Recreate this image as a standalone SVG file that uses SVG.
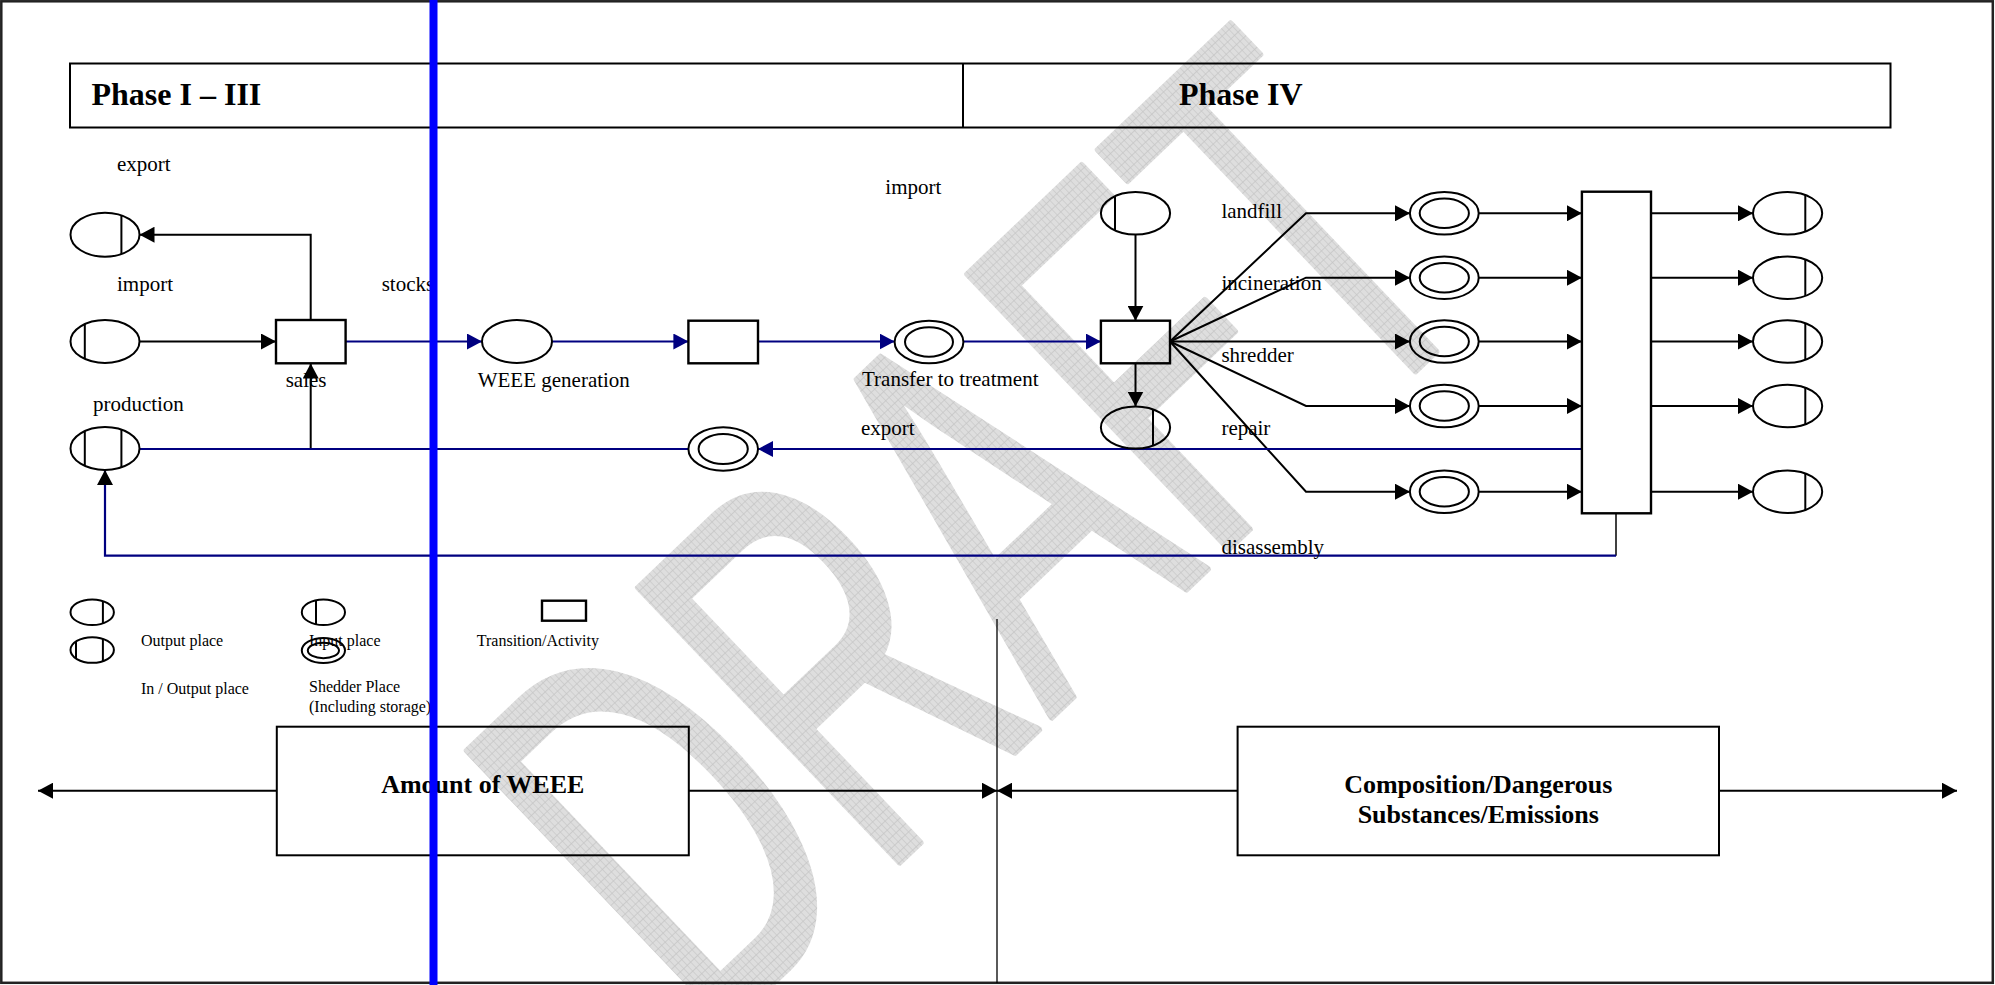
<svg xmlns="http://www.w3.org/2000/svg" width="1995" height="985" viewBox="0 0 1995 985">
<defs>
<style>
.t{font-family:"Liberation Serif","Times New Roman",serif;font-size:21px;fill:#000}
.s{font-family:"Liberation Serif","Times New Roman",serif;font-size:16px;fill:#000}
.b{font-family:"Liberation Serif","Times New Roman",serif;font-weight:bold;fill:#000}
.k{fill:none;stroke:#000;stroke-width:2}
.n{fill:none;stroke:#000080;stroke-width:2.2}
.sh{fill:none;stroke:#000;stroke-width:2}
.tr{fill:none;stroke:#000;stroke-width:2.4}
</style>
<pattern id="hatch" width="8" height="8" patternUnits="userSpaceOnUse">
<rect width="8" height="8" fill="#dedede"/>
<path d="M0,0.5H8M0.5,0V8" stroke="#c6c6c6" stroke-width="1"/>
</pattern>
<marker id="ak" markerWidth="15" markerHeight="16" refX="15" refY="8" orient="auto" markerUnits="userSpaceOnUse"><path d="M0,0L15,8L0,16z" fill="#000"/></marker>
<marker id="an" markerWidth="15" markerHeight="16" refX="15" refY="8" orient="auto" markerUnits="userSpaceOnUse"><path d="M0,0L15,8L0,16z" fill="#000080"/></marker>
</defs>
<rect x="0" y="0" width="1995" height="985" fill="#fff"/>
<g id="watermark">
<text transform="translate(1498,292) rotate(-43.6) scale(0.595,1)" text-anchor="end" font-family="Liberation Sans, Arial, sans-serif" font-size="550" fill="url(#hatch)" stroke="url(#hatch)" stroke-width="7" stroke-linejoin="round">DRAFT</text>
</g>
<rect x="1.3" y="1.3" width="1991.5" height="981.5" fill="none" stroke="#222" stroke-width="2.5"/>
<g id="header">
<rect x="70" y="63.5" width="1820.5" height="64" fill="none" stroke="#000" stroke-width="2"/>
<line x1="963" y1="63.5" x2="963" y2="127.5" stroke="#000" stroke-width="2"/>
<text class="b" x="91.5" y="105" font-size="32">Phase I – III</text>
<text class="b" x="1179" y="105" font-size="32">Phase IV</text>
</g>
<g id="connectors">
<path class="k" d="M139.5,341.5H276" marker-end="url(#ak)"/>
<path class="k" d="M310.7,320V234.7H139.5" marker-end="url(#ak)"/>
<path class="k" d="M310.7,449V363.5" marker-end="url(#ak)"/>
<path class="n" d="M345.5,341.5H482" marker-end="url(#an)"/>
<path class="n" d="M552,341.5H688.4" marker-end="url(#an)"/>
<path class="n" d="M758,341.5H894.6" marker-end="url(#an)"/>
<path class="n" d="M963.4,341.5H1100.9" marker-end="url(#an)"/>
<path class="k" d="M1135.5,234.5V320.7" marker-end="url(#ak)"/>
<path class="k" d="M1135.5,363.3V406.5" marker-end="url(#ak)"/>
<path class="k" d="M1170,341.5L1306,213.3H1410" marker-end="url(#ak)"/>
<path class="k" d="M1170,341.5L1306,277.7H1410" marker-end="url(#ak)"/>
<path class="k" d="M1170,341.5H1410" marker-end="url(#ak)"/>
<path class="k" d="M1170,341.5L1306,406H1410" marker-end="url(#ak)"/>
<path class="k" d="M1170,341.5L1306,491.7H1410" marker-end="url(#ak)"/>
<path class="k" d="M1478.6,213.3H1581.9" marker-end="url(#ak)"/>
<path class="k" d="M1478.6,277.7H1581.9" marker-end="url(#ak)"/>
<path class="k" d="M1478.6,341.5H1581.9" marker-end="url(#ak)"/>
<path class="k" d="M1478.6,406H1581.9" marker-end="url(#ak)"/>
<path class="k" d="M1478.6,491.7H1581.9" marker-end="url(#ak)"/>
<path class="k" d="M1651,213.3H1753" marker-end="url(#ak)"/>
<path class="k" d="M1651,277.7H1753" marker-end="url(#ak)"/>
<path class="k" d="M1651,341.5H1753" marker-end="url(#ak)"/>
<path class="k" d="M1651,406H1753" marker-end="url(#ak)"/>
<path class="k" d="M1651,491.7H1753" marker-end="url(#ak)"/>
<path class="n" d="M1581.9,449H758" marker-end="url(#an)"/>
<path class="n" d="M688.4,449H139.5"/>
<path d="M1616,513.3V555.7" fill="none" stroke="#000" stroke-width="1.5"/>
<path class="n" d="M1616,555.7H105V470" marker-end="url(#ak)"/>
<path class="k" d="M276.8,790.7H38" marker-end="url(#ak)"/>
<path class="k" d="M688.8,790.7H997" marker-end="url(#ak)"/>
<path class="k" d="M1237.6,790.7H997" marker-end="url(#ak)"/>
<path class="k" d="M1719,790.7H1957" marker-end="url(#ak)"/>
<line x1="997" y1="619" x2="997" y2="983" stroke="#000" stroke-width="1.3"/>
</g>
<g id="node-export1"><ellipse class="sh" cx="105" cy="234.7" rx="34.5" ry="22"/><line class="sh" x1="121.4" y1="215.3" x2="121.4" y2="254.1"/></g>
<g id="node-import1"><ellipse class="sh" cx="105" cy="341.5" rx="34.5" ry="21.5"/><line class="sh" x1="84.8" y1="324.1" x2="84.8" y2="358.9"/></g>
<g id="node-production"><ellipse class="sh" cx="105" cy="448.5" rx="34.5" ry="21.5"/><line class="sh" x1="84.8" y1="431.1" x2="84.8" y2="465.9"/><line class="sh" x1="121.4" y1="429.6" x2="121.4" y2="467.4"/></g>
<g id="node-sales"><rect class="tr" x="276" y="320" width="69.6" height="43.3"/></g>
<g id="node-weee"><ellipse class="sh" cx="517" cy="341.5" rx="35" ry="21.5"/></g>
<g id="node-t2"><rect class="tr" x="688.4" y="320.7" width="69.6" height="42.6"/></g>
<g id="node-transfer"><ellipse class="sh" cx="929" cy="342" rx="34.4" ry="21.3"/><ellipse class="sh" cx="929" cy="342" rx="24" ry="14.7"/></g>
<g id="node-treatment"><rect class="tr" x="1100.9" y="320.7" width="69.1" height="42.6"/></g>
<g id="node-import2"><ellipse class="sh" cx="1135.5" cy="213.3" rx="34.6" ry="21.2"/><line class="sh" x1="1115" y1="196.2" x2="1115" y2="230.4"/></g>
<g id="node-export2"><ellipse class="sh" cx="1135.5" cy="427.5" rx="34.6" ry="21"/><line class="sh" x1="1153" y1="409.4" x2="1153" y2="445.6"/></g>
<g id="node-return"><ellipse class="sh" cx="723.2" cy="449" rx="34.8" ry="21.7"/><ellipse class="sh" cx="723.2" cy="449" rx="24.6" ry="15"/></g>
<g id="node-s1"><ellipse class="sh" cx="1444.3" cy="213.3" rx="34.4" ry="21.3"/><ellipse class="sh" cx="1444.3" cy="213.3" rx="24.6" ry="14.7"/></g>
<g id="node-s2"><ellipse class="sh" cx="1444.3" cy="277.7" rx="34.4" ry="21.3"/><ellipse class="sh" cx="1444.3" cy="277.7" rx="24.6" ry="14.7"/></g>
<g id="node-s3"><ellipse class="sh" cx="1444.3" cy="341.5" rx="34.4" ry="21.3"/><ellipse class="sh" cx="1444.3" cy="341.5" rx="24.6" ry="14.7"/></g>
<g id="node-s4"><ellipse class="sh" cx="1444.3" cy="406" rx="34.4" ry="21.3"/><ellipse class="sh" cx="1444.3" cy="406" rx="24.6" ry="14.7"/></g>
<g id="node-s5"><ellipse class="sh" cx="1444.3" cy="491.7" rx="34.4" ry="21.3"/><ellipse class="sh" cx="1444.3" cy="491.7" rx="24.6" ry="14.7"/></g>
<g id="node-big"><rect class="tr" x="1581.9" y="191.7" width="69.1" height="321.6"/></g>
<g id="node-o1"><ellipse class="sh" cx="1787.6" cy="213.3" rx="34.6" ry="21.3"/><line class="sh" x1="1805.3" y1="195" x2="1805.3" y2="231.6"/></g>
<g id="node-o2"><ellipse class="sh" cx="1787.6" cy="277.7" rx="34.6" ry="21.3"/><line class="sh" x1="1805.3" y1="259.4" x2="1805.3" y2="296"/></g>
<g id="node-o3"><ellipse class="sh" cx="1787.6" cy="341.5" rx="34.6" ry="21.3"/><line class="sh" x1="1805.3" y1="323.2" x2="1805.3" y2="359.8"/></g>
<g id="node-o4"><ellipse class="sh" cx="1787.6" cy="406" rx="34.6" ry="21.3"/><line class="sh" x1="1805.3" y1="387.7" x2="1805.3" y2="424.3"/></g>
<g id="node-o5"><ellipse class="sh" cx="1787.6" cy="491.7" rx="34.6" ry="21.3"/><line class="sh" x1="1805.3" y1="473.4" x2="1805.3" y2="510"/></g>
<g id="labels">
<text class="t" x="117" y="170.7">export</text>
<text class="t" x="117" y="291">import</text>
<text class="t" x="381.7" y="291">stocks</text>
<text class="t" x="285.7" y="386.7">sales</text>
<text class="t" x="477.7" y="386.7">WEEE generation</text>
<text class="t" x="92.9" y="410.7">production</text>
<text class="t" x="885.3" y="194.3">import</text>
<text class="t" x="862" y="386">Transfer to treatment</text>
<text class="t" x="861" y="435">export</text>
<text class="t" x="1221.4" y="218.3">landfill</text>
<text class="t" x="1221.4" y="290">incineration</text>
<text class="t" x="1221.4" y="362.3">shredder</text>
<text class="t" x="1221.4" y="435">repair</text>
<text class="t" x="1221.4" y="554.3">disassembly</text>
</g>
<g id="legend">
<g id="legend-output"><ellipse class="sh" cx="92.2" cy="612.2" rx="21.7" ry="12.8"/><line class="sh" x1="102.9" y1="601" x2="102.9" y2="623.4"/></g>
<g id="legend-inout"><ellipse class="sh" cx="92.2" cy="650" rx="21.7" ry="12.8"/><line class="sh" x1="76" y1="641" x2="76" y2="659"/><line class="sh" x1="102.9" y1="638.8" x2="102.9" y2="661.2"/></g>
<g id="legend-input"><ellipse class="sh" cx="323.4" cy="612.2" rx="21.6" ry="12.8"/><line class="sh" x1="316" y1="600.1" x2="316" y2="624.3"/></g>
<g id="legend-shredder"><ellipse class="sh" cx="323.4" cy="650.5" rx="21.6" ry="12.5"/><ellipse class="sh" cx="323.4" cy="650.5" rx="15.6" ry="7.7"/></g>
<g id="legend-transition"><rect class="tr" x="542" y="600.7" width="44" height="20"/></g>
<text class="s" x="141" y="646">Output place</text>
<text class="s" x="309" y="646">Input place</text>
<text class="s" x="476.8" y="646">Transition/Activity</text>
<text class="s" x="141" y="694">In / Output place</text>
<text class="s" x="309" y="692.3">Shedder Place</text>
<text class="s" x="309" y="711.7">(Including storage)</text>
</g>
<g id="node-amount"><rect x="276.8" y="726.7" width="412" height="128.6" fill="none" stroke="#000" stroke-width="2"/><text class="b" x="482.8" y="793.3" font-size="26" text-anchor="middle">Amount of WEEE</text></g>
<g id="node-composition"><rect x="1237.6" y="726.7" width="481.4" height="128.6" fill="none" stroke="#000" stroke-width="2"/><text class="b" x="1478.3" y="793.3" font-size="26" text-anchor="middle">Composition/Dangerous</text><text class="b" x="1478.3" y="823.3" font-size="26" text-anchor="middle">Substances/Emissions</text></g>
<line id="blue-bar" x1="433.5" y1="0" x2="433.5" y2="985" stroke="#0000ff" stroke-width="8"/>
</svg>
